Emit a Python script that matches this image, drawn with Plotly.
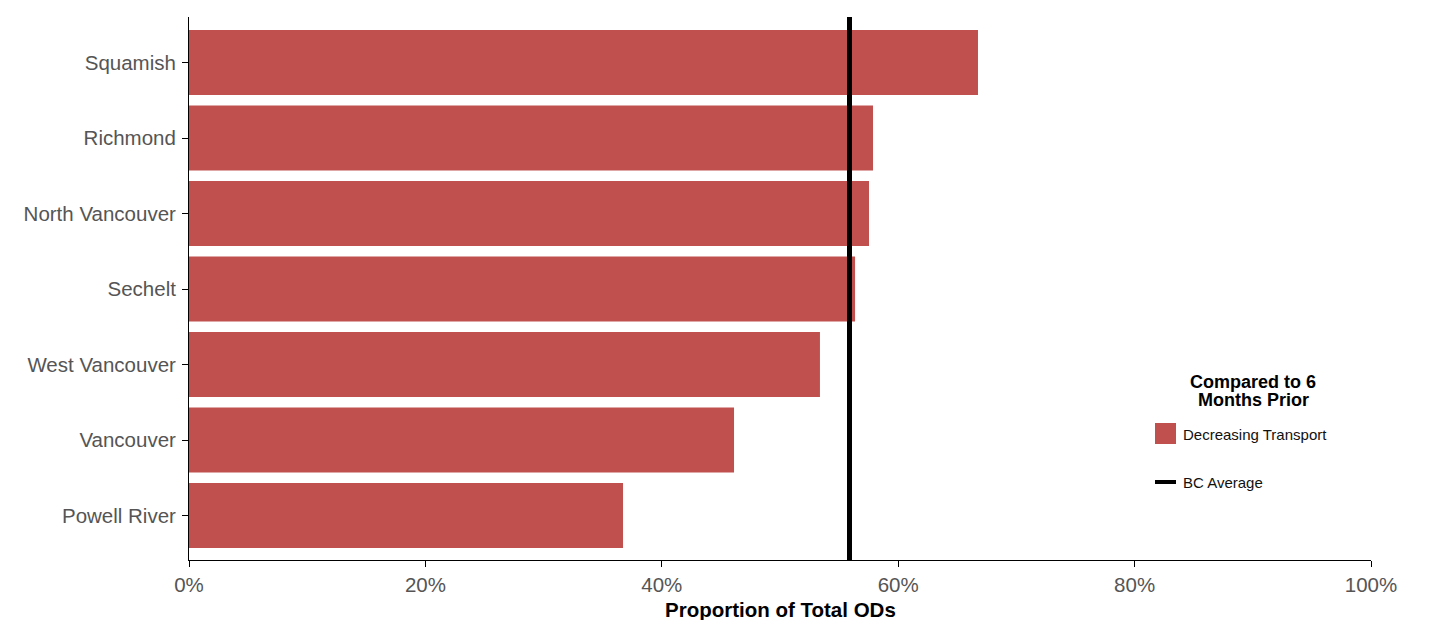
import plotly.graph_objects as go

# Data (top to bottom as drawn)
regions = ["Squamish", "Richmond", "North Vancouver", "Sechelt",
           "West Vancouver", "Vancouver", "Powell River"]
proportion_pct = [66.75, 57.87, 57.53, 56.35, 53.38, 46.11, 36.72]
bc_average_pct = 55.88
x_ticks = [0, 20, 40, 60, 80, 100]
x_tick_labels = ["0%", "20%", "40%", "60%", "80%", "100%"]

BAR_COLOR = "#C0504D"
FONT = "Liberation Sans, Arial, sans-serif"

fig = go.Figure()
fig.add_trace(go.Bar(
    x=proportion_pct, y=regions, orientation="h",
    marker=dict(color=BAR_COLOR, line=dict(width=0)),
    width=0.861, showlegend=False,
    name="Decreasing Transport",
))

# BC average line (data x, full plot height)
fig.add_shape(type="line", xref="x", yref="paper",
              x0=bc_average_pct, x1=bc_average_pct, y0=0, y1=1,
              line=dict(color="black", width=5))

# Screen-pixel layout (page body has an 8px default margin)
OFF = 8
L, R, T, B = 189, 1371, 17, 560
def px(xp):
    return (xp - L) / (R - L)
def py(yp):
    return (B - yp) / (B - T)

# Axis title
fig.add_annotation(xref="paper", yref="paper", x=px(780), y=py(609),
                   text="<b>Proportion of Total ODs</b>", showarrow=False,
                   xanchor="center", yanchor="middle",
                   font=dict(family=FONT, size=20.5, color="black"))

# Manual legend
for txt, yy in [("Compared to 6", 382), ("Months Prior", 400)]:
    fig.add_annotation(xref="paper", yref="paper", x=px(1253), y=py(yy),
                       text="<b>" + txt + "</b>", showarrow=False,
                       xanchor="center", yanchor="middle",
                       font=dict(family=FONT, size=18, color="black"))
fig.add_shape(type="rect", xref="paper", yref="paper",
              x0=px(1155), x1=px(1176), y0=py(444), y1=py(423),
              fillcolor=BAR_COLOR, line=dict(width=0))
fig.add_annotation(xref="paper", yref="paper", x=px(1181), y=py(434),
                   text="Decreasing Transport", showarrow=False,
                   xanchor="left", yanchor="middle",
                   font=dict(family=FONT, size=15, color="#111"))
fig.add_shape(type="line", xref="paper", yref="paper",
              x0=px(1155), x1=px(1176), y0=py(482), y1=py(482),
              line=dict(color="black", width=4))
fig.add_annotation(xref="paper", yref="paper", x=px(1181), y=py(482),
                   text="BC Average", showarrow=False,
                   xanchor="left", yanchor="middle",
                   font=dict(family=FONT, size=15, color="#111"))

W, H = 1436, 620
fig.update_layout(
    width=W, height=H,
    margin=dict(l=L - OFF, r=W - (R - OFF), t=T - OFF, b=H - (B - OFF)),
    paper_bgcolor="white", plot_bgcolor="white",
    font=dict(family=FONT),
    xaxis=dict(
        range=[0, 100], tickvals=x_ticks, ticktext=x_tick_labels,
        automargin=False,
        showgrid=False, zeroline=False,
        showline=True, linecolor="black", linewidth=1,
        ticks="outside", ticklen=6, tickcolor="black",
        tickfont=dict(family=FONT, size=20.5, color="#555"),
    ),
    yaxis=dict(
        categoryorder="array", categoryarray=regions[::-1],
        range=[-0.589, 6.603], automargin=False,
        showgrid=False, zeroline=False,
        showline=True, linecolor="black", linewidth=1,
        ticks="outside", ticklen=6, tickcolor="black",
        ticklabelstandoff=2,
        tickfont=dict(family=FONT, size=20.5, color="#555"),
    ),
)

fig.write_html("out.html")
